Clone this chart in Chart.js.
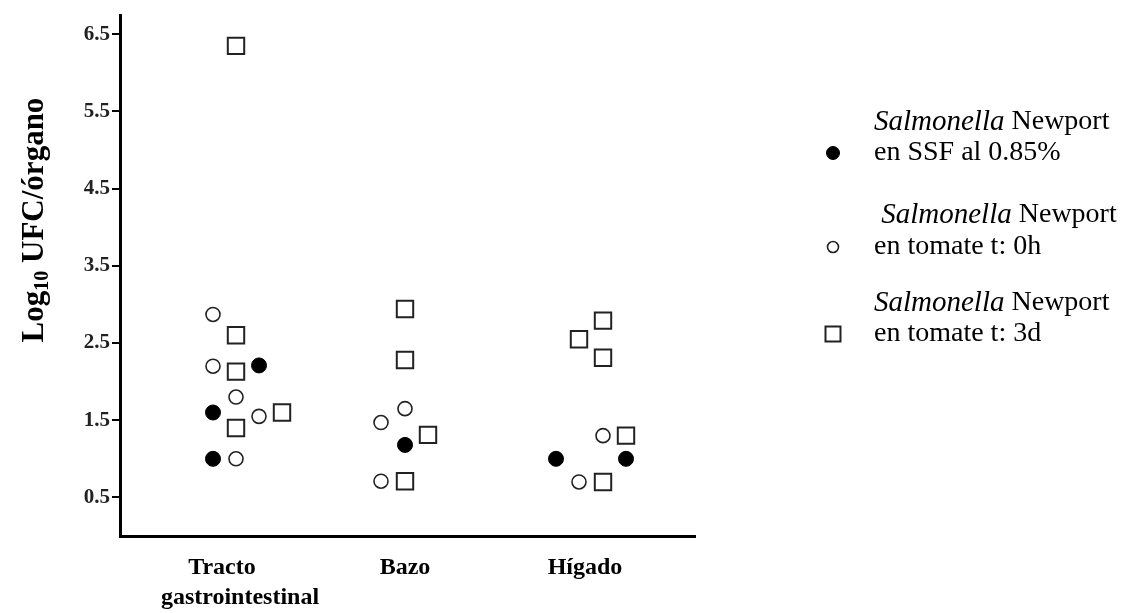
<!DOCTYPE html>
<html lang="es">
<head>
<meta charset="utf-8">
<title>Log10 UFC/órgano</title>
<script src="https://cdn.jsdelivr.net/npm/chart.js@4.4.1/dist/chart.umd.min.js"></script>
<style>
  html, body { margin: 0; padding: 0; background: #fff; }
  #wrap { width: 1132px; height: 613px; }
</style>
</head>
<body>
<div id="wrap"><canvas id="chart" width="1132" height="613"></canvas></div>
<script>
// categorías del eje x y su posición sobre el eje (unidades del eje x)
var categories = [['Tracto      ', 'gastrointestinal'], ['Bazo'], ['Hígado']];
var categoryPos = [120, 285, 465];

// marcas del eje y (Log10 UFC/órgano)
var yTicks = [0.5, 1.5, 2.5, 3.5, 4.5, 5.5, 6.5];

// Salmonella Newport en SSF al 0.85%
var ssfX = [93, 139, 93, 285, 436, 506];
var ssfY = [1.60, 2.21, 1.00, 1.18, 1.00, 1.00];

// Salmonella Newport en tomate t: 0h
var t0X = [93, 93, 116, 139, 116, 285, 261, 261, 483, 459];
var t0Y = [2.87, 2.20, 1.80, 1.55, 1.00, 1.65, 1.47, 0.71, 1.30, 0.70];

// Salmonella Newport en tomate t: 3d
var t3X = [116, 116, 116, 116, 162, 285, 285, 308, 285, 483, 459, 483, 506, 483];
var t3Y = [6.35, 2.60, 2.13, 1.40, 1.60, 2.94, 2.28, 1.31, 0.71, 2.79, 2.55, 2.31, 1.30, 0.70];

// textos de la leyenda: [cursiva, resto línea 1, línea 2]
var legendText = [
    ['Salmonella', ' Newport', 'en SSF al 0.85%'],
    [' Salmonella', ' Newport', 'en tomate t: 0h'],
    ['Salmonella', ' Newport', 'en tomate t: 3d']
];

var FONT = '"Liberation Serif", "Times New Roman", Times, serif';

function toPoints(xs, ys) {
    return xs.map(function(x, i) { return { x: x, y: ys[i] }; });
}

// título del eje y con subíndice
var yTitlePlugin = {
    id: 'yTitle',
    afterDraw: function(c) {
        var g = c.ctx;
        var big = 'bold 31px ' + FONT;
        var small = 'bold 20px ' + FONT;
        var parts = [['Log', big, 0], ['10', small, 5], [' UFC/órgano', big, 0]];
        g.save();
        var w = 0;
        parts.forEach(function(p) { g.font = p[1]; w += g.measureText(p[0]).width; });
        g.translate(33, 220);
        g.rotate(-Math.PI / 2);
        g.fillStyle = '#000';
        g.textBaseline = 'alphabetic';
        var x = -w / 2;
        parts.forEach(function(p) {
            g.font = p[1];
            g.fillText(p[0], x, 10 + p[2]);
            x += g.measureText(p[0]).width;
        });
        g.restore();
    }
};

// leyenda de dos líneas a la derecha
var legendPlugin = {
    id: 'sideLegend',
    afterDraw: function(c) {
        var g = c.ctx;
        var markX = 833, textX = 874;
        var line1Y = [122, 215, 303];
        var line2Y = [153, 247, 334];
        g.save();
        c.data.datasets.forEach(function(ds, i) {
            var t = legendText[i];
            g.fillStyle = '#000';
            g.textBaseline = 'middle';
            g.font = 'italic 29px ' + FONT;
            g.fillText(t[0], textX, line1Y[i]);
            var w = g.measureText(t[0]).width;
            g.font = '28px ' + FONT;
            g.fillText(t[1], textX + w, line1Y[i]);
            g.fillText(t[2], textX, line2Y[i]);
            // marcador
            var y = line2Y[i];
            g.lineWidth = ds.borderWidth;
            g.strokeStyle = ds.borderColor;
            g.fillStyle = ds.backgroundColor;
            g.beginPath();
            if (ds.pointStyle === 'rect') {
                var h = ds.legendRadius * Math.SQRT1_2;
                g.rect(markX - h, y - h, 2 * h, 2 * h);
            } else {
                g.arc(markX, y, ds.legendRadius, 0, Math.PI * 2);
            }
            g.fill();
            g.stroke();
        });
        g.restore();
    }
};

var chart = new Chart(document.getElementById('chart').getContext('2d'), {
    type: 'scatter',
    data: {
        datasets: [{
            label: 'Salmonella Newport en SSF al 0.85%',
            data: toPoints(ssfX, ssfY),
            pointStyle: 'circle',
            pointRadius: 7.5,
            legendRadius: 6.5,
            backgroundColor: '#000',
            borderColor: '#000',
            borderWidth: 1
        }, {
            label: 'Salmonella Newport en tomate t: 0h',
            data: toPoints(t0X, t0Y),
            pointStyle: 'circle',
            pointRadius: 7,
            legendRadius: 5.5,
            backgroundColor: '#fff',
            borderColor: '#222',
            borderWidth: 1.6
        }, {
            label: 'Salmonella Newport en tomate t: 3d',
            data: toPoints(t3X, t3Y),
            pointStyle: 'rect',
            pointRadius: 11.6,
            legendRadius: 10.6,
            backgroundColor: '#fff',
            borderColor: '#222',
            borderWidth: 2
        }]
    },
    options: {
        responsive: false,
        animation: false,
        devicePixelRatio: 1,
        layout: { padding: { left: 0, top: 15, right: 437, bottom: 0 } },
        plugins: {
            legend: { display: false },
            tooltip: { enabled: false }
        },
        scales: {
            x: {
                type: 'linear',
                position: 'bottom',
                min: 0,
                max: 575,
                afterBuildTicks: function(s) {
                    s.ticks = categoryPos.map(function(v) { return { value: v }; });
                },
                afterFit: function(s) { s.height = 77; },
                grid: { display: false, drawTicks: false, tickLength: 0 },
                border: { display: true, color: '#000', width: 3 },
                ticks: {
                    autoSkip: false,
                    maxRotation: 0,
                    padding: 17,
                    color: '#000',
                    font: { family: FONT, size: 24, weight: 'bold', lineHeight: 1.25 },
                    callback: function(v, i) { return categories[i]; }
                }
            },
            y: {
                min: 0,
                max: 6.75,
                afterBuildTicks: function(s) {
                    s.ticks = yTicks.map(function(v) { return { value: v }; });
                },
                afterFit: function(s) { s.width = 120; },
                grid: { drawOnChartArea: false, drawTicks: true, tickLength: 8, color: '#000', lineWidth: 2 },
                border: { display: true, color: '#000', width: 3 },
                ticks: {
                    padding: 2,
                    color: '#222',
                    font: { family: FONT, size: 21, weight: 'bold' },
                    callback: function(v) { return v.toFixed(1); }
                }
            }
        }
    },
    plugins: [yTitlePlugin, legendPlugin]
});
</script>
</body>
</html>
